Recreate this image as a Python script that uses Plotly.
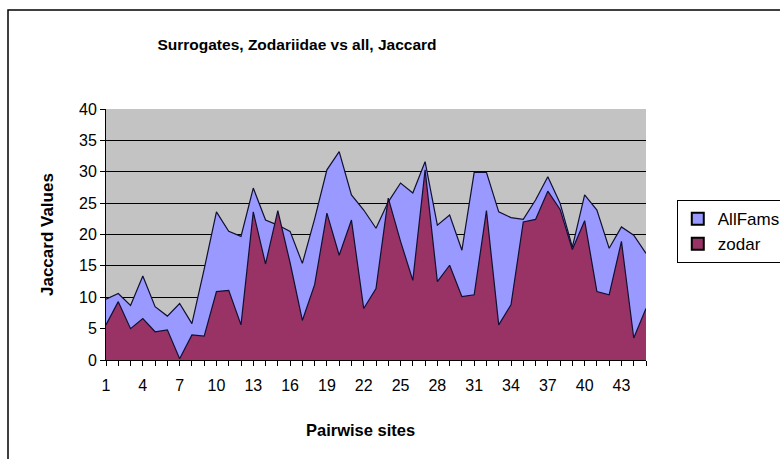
import plotly.graph_objects as go

# Pairwise site index and Jaccard values for each surrogate series
sites = list(range(1, 46))
all_fams = [9.7, 10.6, 8.7, 13.4, 8.5, 7.0, 9.0, 5.8, 14.5, 23.6,
            20.5, 19.7, 27.4, 22.3, 21.5, 20.5, 15.4, 22.5, 30.3, 33.2,
            26.3, 23.9, 21.0, 25.2, 28.2, 26.6, 31.6, 21.5, 23.1, 17.5,
            29.9, 29.9, 23.6, 22.7, 22.4, 25.5, 29.2, 25.0, 18.0, 26.3,
            23.9, 17.8, 21.2, 19.9, 17.0]
zodar = [5.6, 9.3, 5.0, 6.6, 4.5, 4.8, 0.2, 4.0, 3.8, 10.9,
         11.1, 5.6, 23.6, 15.3, 23.8, 15.5, 6.3, 12.0, 23.4, 16.7,
         22.3, 8.2, 11.4, 25.8, 18.9, 12.7, 30.3, 12.5, 15.1, 10.1,
         10.4, 23.8, 5.6, 8.8, 22.0, 22.4, 26.9, 24.0, 17.6, 22.2,
         10.9, 10.4, 18.9, 3.5, 8.2]
tick_labels = [str(s) if (s - 1) % 3 == 0 else "" for s in sites]

BLUE = "#9999ff"
PLUM = "#993366"
FONT = "Liberation Sans, Arial, sans-serif"

fig = go.Figure()

# Overlapping (unstacked) area series, zodar drawn in front
fig.add_trace(go.Scatter(x=sites, y=all_fams, mode="lines", fill="tozeroy",
                         fillcolor=BLUE, line=dict(color="#101030", width=1.2),
                         showlegend=False, hoverinfo="x+y", name="AllFams"))
fig.add_trace(go.Scatter(x=sites, y=zodar, mode="lines", fill="tozeroy",
                         fillcolor=PLUM, line=dict(color="#101030", width=1.2),
                         showlegend=False, hoverinfo="x+y", name="zodar"))

# Square legend keys
for name, col in [("AllFams", BLUE), ("zodar", PLUM)]:
    fig.add_trace(go.Scatter(x=[None], y=[None], mode="markers", name=name,
                             marker=dict(symbol="square", size=9, color=col,
                                         line=dict(color="black", width=1))))

fig.update_layout(
    width=780, height=459,
    margin=dict(l=106, r=134, t=109, b=99, autoexpand=False),
    paper_bgcolor="white",
    plot_bgcolor="#c3c3c3",
    font=dict(family=FONT, color="black", size=16),
    title=dict(text="<b>Surrogates, Zodariidae vs all, Jaccard</b>",
               x=297 / 780, xanchor="center", y=1 - 45 / 459, yanchor="middle",
               font=dict(family=FONT, size=15.5, color="black")),
    legend=dict(x=1.057, y=0.637, xanchor="left", yanchor="top",
                bgcolor="white", bordercolor="black", borderwidth=1,
                font=dict(family=FONT, size=17), itemsizing="constant",
                tracegroupgap=4),
    showlegend=True,
)

fig.update_xaxes(
    range=[1, 45], tickmode="array", tickvals=sites, ticktext=tick_labels,
    ticks="outside", ticklen=5, tickcolor="black", tickangle=0,
    ticklabelstandoff=6,
    showline=True, linecolor="black", linewidth=1, showgrid=False,
    zeroline=False, tickfont=dict(size=16),
)
fig.update_yaxes(
    range=[0, 40], dtick=5, ticks="outside", ticklen=5, tickcolor="black",
    showline=True, linecolor="black", linewidth=1,
    showgrid=True, gridcolor="black", gridwidth=1, zeroline=False,
    tickfont=dict(size=16),
)

fig.add_annotation(text="<b>Jaccard Values</b>", xref="paper", yref="paper",
                   x=(47 - 106) / 540, y=(360 - 235) / 251, textangle=-90,
                   xanchor="center", yanchor="middle", showarrow=False,
                   font=dict(size=17))
fig.add_annotation(text="<b>Pairwise sites</b>", xref="paper", yref="paper",
                   x=(360 - 106) / 540, y=(360 - 430) / 251,
                   xanchor="center", yanchor="middle", showarrow=False,
                   font=dict(size=16.5))

# Chart-area frame
fig.add_shape(type="rect", xref="paper", yref="paper",
              x0=(8 - 106) / 540, x1=(790 - 106) / 540,
              y0=(360 - 470) / 251, y1=(360 - 10) / 251,
              line=dict(color="black", width=1.5), layer="below")

fig.write_html("out.html")
